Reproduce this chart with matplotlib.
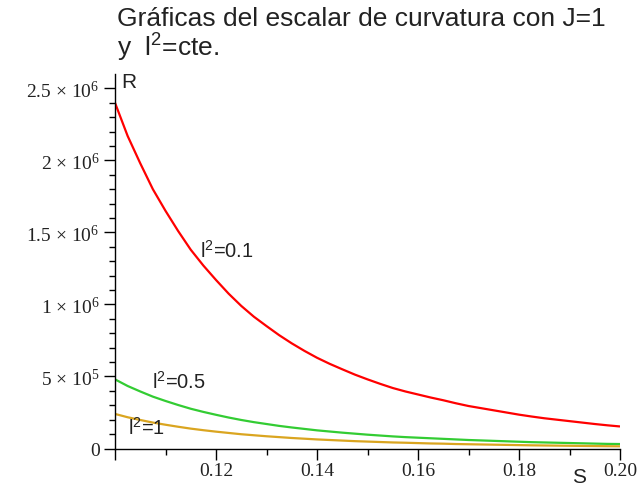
import matplotlib
matplotlib.use("Agg")
import matplotlib.pyplot as plt
from matplotlib.ticker import FixedLocator, FixedFormatter

# Data (R in units of 1e6), s step 0.0025
s_vals = [0.1 + 0.0025 * i for i in range(41)]
r_l01 = [2.40, 2.17, 1.98, 1.80, 1.65, 1.51, 1.38, 1.27, 1.17, 1.075, 0.99, 0.915, 0.85,
         0.787, 0.73, 0.678, 0.63, 0.588, 0.55, 0.513, 0.48, 0.449, 0.42, 0.396, 0.375,
         0.354, 0.335, 0.314, 0.295, 0.28, 0.265, 0.25, 0.235, 0.222, 0.21, 0.2, 0.19,
         0.18, 0.17, 0.161, 0.153]
r_l05 = [0.48, 0.434, 0.396, 0.36, 0.33, 0.302, 0.276, 0.254, 0.234, 0.215, 0.198, 0.183,
         0.17, 0.157, 0.146, 0.136, 0.126, 0.118, 0.11, 0.103, 0.096, 0.09, 0.084, 0.079,
         0.075, 0.071, 0.067, 0.063, 0.059, 0.056, 0.053, 0.05, 0.047, 0.044, 0.042, 0.04,
         0.038, 0.036, 0.034, 0.032, 0.031]
r_l1 = [0.24, 0.217, 0.198, 0.18, 0.165, 0.151, 0.138, 0.127, 0.117, 0.108, 0.099, 0.092,
        0.085, 0.079, 0.073, 0.068, 0.063, 0.059, 0.055, 0.051, 0.048, 0.045, 0.042, 0.04,
        0.0375, 0.035, 0.0335, 0.031, 0.0295, 0.028, 0.0265, 0.025, 0.0235, 0.022, 0.021,
        0.02, 0.019, 0.018, 0.017, 0.016, 0.0153]

series_labels = ["l$^2$=0.1", "l$^2$=0.5", "l$^2$=1"]
series_colors = ["#ff0000", "#33cc33", "#daa520"]
label_pos = [(0.1168, 1.38e6), (0.1073, 0.47e6), (0.1026, 0.15e6)]

y_ticks = [0, 5e5, 1e6, 1.5e6, 2e6, 2.5e6]
y_tick_labels = ["0", r"5 $\times$ 10$^{5}$", r"1 $\times$ 10$^{6}$", r"1.5 $\times$ 10$^{6}$",
                 r"2 $\times$ 10$^{6}$", r"2.5 $\times$ 10$^{6}$"]
x_ticks = [0.10, 0.12, 0.14, 0.16, 0.18, 0.20]
x_tick_labels = ["", "0.12", "0.14", "0.16", "0.18", "0.20"]

plt.rcParams['mathtext.fontset'] = 'custom'
plt.rcParams['mathtext.rm'] = 'Liberation Serif'
plt.rcParams['mathtext.default'] = 'regular'

fig = plt.figure(figsize=(6.37, 4.89), dpi=100)
ax = fig.add_axes([115/637, (489-449.5)/489, 505/637, (449.5-75)/489])

for ys, c in zip([r_l01, r_l05, r_l1], series_colors):
    ax.plot(s_vals, [v * 1e6 for v in ys], color=c, lw=1.6, solid_capstyle='butt')

ax.set_xlim(0.1, 0.2)
ax.set_ylim(0, 2.6e6)
for sp in ['top', 'right']:
    ax.spines[sp].set_visible(False)
for sp in ['left', 'bottom']:
    ax.spines[sp].set_linewidth(1.0)
    ax.spines[sp].set_color('black')

ax.yaxis.set_major_locator(FixedLocator(y_ticks))
ax.yaxis.set_major_formatter(FixedFormatter(y_tick_labels))
ax.yaxis.set_minor_locator(FixedLocator([i * 1e5 for i in range(26)]))
ax.xaxis.set_major_locator(FixedLocator(x_ticks))
ax.xaxis.set_major_formatter(FixedFormatter(x_tick_labels))
ax.xaxis.set_minor_locator(FixedLocator([0.11, 0.13, 0.15, 0.17, 0.19]))

ax.tick_params(which='major', length=8, width=1, direction='out', colors='black')
ax.tick_params(which='minor', length=4, width=1, direction='out', colors='black')
for lab in ax.get_xticklabels() + ax.get_yticklabels():
    lab.set_fontfamily('Liberation Serif')
    lab.set_fontsize(14)
    lab.set_color('#222222')
ax.tick_params(axis='x', pad=2)
ax.tick_params(axis='y', pad=3)

sans = 'Liberation Sans'
for (x, y), t in zip(label_pos, series_labels):
    ax.text(x, y, t, fontsize=14.5, family=sans, va='center', ha='left', color='#222222')

fig.text(121/637, 1 - 83/489, "R", fontsize=15, family=sans, va='center', ha='left', color='#222222')
fig.text(579/637, 1 - 478/489, "S", fontsize=15, family=sans, va='center', ha='center', color='#222222')

fig.text(117/637, 1 - 19/489, "Gráficas del escalar de curvatura con J=1",
         fontsize=19, family=sans, va='center', ha='left', color='#222222')
fig.text(117/637, 1 - 48/489, "y  l$^2$=cte.",
         fontsize=19, family=sans, va='center', ha='left', color='#222222')

fig.savefig("out.png", dpi=100)
